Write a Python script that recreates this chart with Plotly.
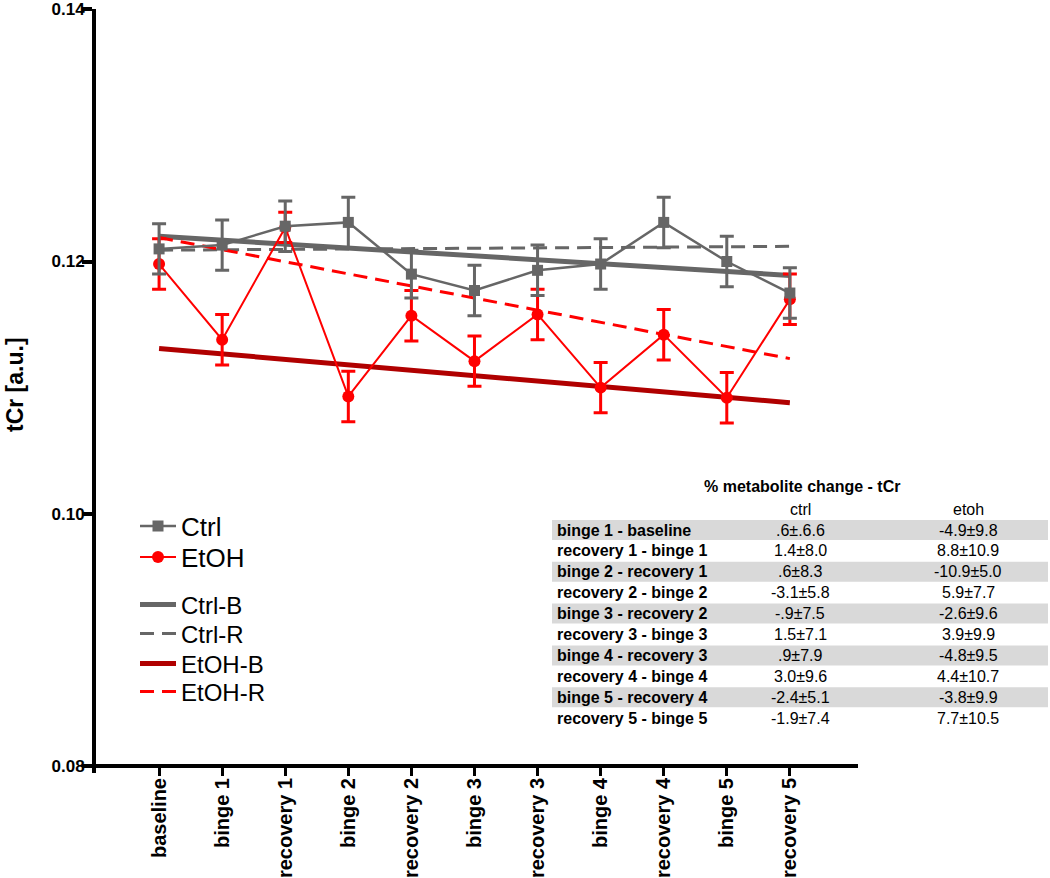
import plotly.graph_objects as go

W, H = 1050, 878

# ---------------- data ----------------
timepoints = ["baseline", "binge 1", "recovery 1", "binge 2", "recovery 2", "binge 3",
              "recovery 3", "binge 4", "recovery 4", "binge 5", "recovery 5"]
ctrl_mean = [0.1210, 0.1213, 0.1228, 0.1231, 0.1190, 0.1177, 0.1193, 0.1198, 0.1231, 0.1200, 0.1175]
ctrl_sem = [0.0020, 0.0020, 0.0020, 0.0020, 0.0019, 0.0020, 0.0020, 0.0020, 0.0020, 0.0020, 0.0020]
etoh_mean = [0.1198, 0.1138, 0.1227, 0.1093, 0.1157, 0.1121, 0.1158, 0.1100, 0.1142, 0.1092, 0.1170]
etoh_sem = [0.0020, 0.0020, 0.0012, 0.0020, 0.0020, 0.0020, 0.0020, 0.0020, 0.0020, 0.0020, 0.0020]

trend_x = [0, 10]
ctrl_b = [0.1220, 0.1189]
ctrl_r = [0.1209, 0.1212]
etoh_b = [0.1131, 0.1088]
etoh_r = [0.1219, 0.1123]

y_ticks = [0.08, 0.10, 0.12, 0.14]

table_title = "% metabolite change - tCr"
table_cols = ["ctrl", "etoh"]
row_labels = ["binge 1 - baseline", "recovery 1 - binge 1", "binge 2 - recovery 1",
              "recovery 2 - binge 2", "binge 3 - recovery 2", "recovery 3 - binge 3",
              "binge 4 - recovery 3", "recovery 4 - binge 4", "binge 5 - recovery 4",
              "recovery 5 - binge 5"]
ctrl_change = [".6±.6.6", "1.4±8.0", ".6±8.3", "-3.1±5.8", "-.9±7.5", "1.5±7.1",
               ".9±7.9", "3.0±9.6", "-2.4±5.1", "-1.9±7.4"]
etoh_change = ["-4.9±9.8", "8.8±10.9", "-10.9±5.0", "5.9±7.7", "-2.6±9.6", "3.9±9.9",
               "-4.8±9.5", "4.4±10.7", "-3.8±9.9", "7.7±10.5"]

# ---------------- helpers ----------------
def px(x):
    return x / W

def py(y):
    return 1 - y / H

FONT = "Arial, Liberation Sans, sans-serif"
GREY = "#666666"
RED = "#ff0000"
DARKRED = "#b00000"
xi = list(range(len(timepoints)))

fig = go.Figure()

# trend lines (each in its own legend box)
fig.add_trace(go.Scatter(x=trend_x, y=ctrl_b, mode="lines", name="Ctrl-B", legend="legend3",
                         line=dict(color=GREY, width=5)))
fig.add_trace(go.Scatter(x=trend_x, y=ctrl_r, mode="lines", name="Ctrl-R", legend="legend4",
                         line=dict(color=GREY, width=3, dash="14px,8px")))
fig.add_trace(go.Scatter(x=trend_x, y=etoh_b, mode="lines", name="EtOH-B", legend="legend5",
                         line=dict(color=DARKRED, width=5)))
fig.add_trace(go.Scatter(x=trend_x, y=etoh_r, mode="lines", name="EtOH-R", legend="legend6",
                         line=dict(color=RED, width=3, dash="14px,8px")))

# data
fig.add_trace(go.Scatter(x=xi, y=etoh_mean, mode="lines+markers", name="EtOH", legend="legend2",
                         line=dict(color=RED, width=2),
                         marker=dict(symbol="circle", size=12, color=RED),
                         error_y=dict(type="data", array=etoh_sem, color=RED, thickness=3, width=7)))
fig.add_trace(go.Scatter(x=xi, y=ctrl_mean, mode="lines+markers", name="Ctrl", legend="legend",
                         line=dict(color=GREY, width=2.5),
                         marker=dict(symbol="square", size=11, color=GREY),
                         error_y=dict(type="data", array=ctrl_sem, color=GREY, thickness=3, width=7)))

# ---------------- table ----------------
annotations = []
def txt(x, y, s, size=16, bold=False, anchor="center", angle=0):
    return dict(x=px(x), y=py(y), xref="paper", yref="paper", text=s, showarrow=False,
                xanchor=anchor, yanchor="middle", textangle=angle,
                font=dict(family=FONT, size=size, color="black",
                          weight="bold" if bold else "normal"))

annotations.append(txt(802, 487, table_title, bold=True))
for cx, c in zip([800, 968], table_cols):
    annotations.append(txt(cx, 509, c))
shapes = []
row_h = 20.9
for i, lab in enumerate(row_labels):
    yc = 530 + row_h * i
    if i % 2 == 0:
        shapes.append(dict(type="rect", xref="paper", yref="paper", x0=px(552), x1=px(1048),
                           y0=py(yc - 10), y1=py(yc + 10), fillcolor="#d9d9d9", line=dict(width=0),
                           layer="below"))
    annotations.append(txt(555, yc, lab, bold=True, anchor="left"))
    annotations.append(txt(800, yc, ctrl_change[i]))
    annotations.append(txt(968, yc, etoh_change[i]))

# y-axis title
annotations.append(txt(0, 385, "tCr [a.u.]", size=23, bold=True, anchor="left", angle=-90))

y0_val = 0.08 - 7 / (757 / 0.06)

def leg(ycenter, size):
    return dict(x=px(135), y=py(ycenter), xanchor="left", yanchor="middle",
                bgcolor="rgba(0,0,0,0)", borderwidth=0,
                font=dict(family=FONT, size=size, color="black"), itemwidth=36)

fig.update_layout(
    width=W, height=H,
    margin=dict(l=0, r=0, t=0, b=0, autoexpand=False),
    paper_bgcolor="white", plot_bgcolor="white",
    font=dict(family=FONT, color="black"),
    showlegend=True,
    legend=leg(526, 26),
    legend2=leg(557, 26),
    legend3=leg(605, 24),
    legend4=leg(634, 24),
    legend5=leg(664, 24),
    legend6=leg(692, 24),
    xaxis=dict(domain=[px(96), px(858)], range=[-1, 11.08], anchor="free", position=py(766),
               automargin=False,
               tickvals=xi, ticktext=timepoints, tickangle=-90,
               showline=True, linecolor="black", linewidth=4,
               ticks="outside", ticklen=8, tickwidth=3, tickcolor="black",
               ticklabelstandoff=-6, ticklabeloverflow="allow",
               showgrid=False, zeroline=False,
               tickfont=dict(family=FONT, size=20, color="black", weight="bold")),
    yaxis=dict(domain=[py(773), py(9)], range=[y0_val, 0.14002], anchor="x",
               automargin=False,
               tickvals=y_ticks, ticktext=[f"{v:.2f}" for v in y_ticks],
               showline=True, linecolor="black", linewidth=4,
               ticks="outside", ticklen=10, tickwidth=4, tickcolor="black",
               ticklabelstandoff=-6, ticklabeloverflow="allow",
               showgrid=False, zeroline=False,
               tickfont=dict(family=FONT, size=17, color="black", weight="bold")),
    annotations=annotations,
    shapes=shapes,
)

fig.write_html("out.html", config={"displayModeBar": False},
               post_script="document.body.style.margin='0';")
